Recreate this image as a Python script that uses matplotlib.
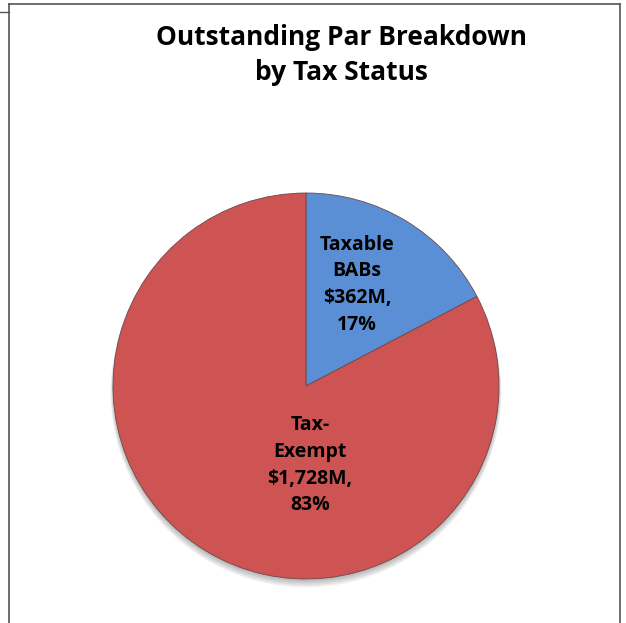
import matplotlib.pyplot as plt
from matplotlib.lines import Line2D
from matplotlib.patches import Circle

##the data for the pie
categories = ["Taxable\nBABs", "Tax-\nExempt"]
par_millions = [362, 1728]
colors = ["#5A8FD5", "#CD5452"]

total = sum(par_millions)
labels = []
for name, val in zip(categories, par_millions):
    labels.append("%s\n$%sM,\n%d%%" % (name, format(val, ","), round(100 * val / total)))

fig = plt.figure(figsize=(6.26, 6.23), dpi=100)

##pie axes placed so the circle sits where it does in the picture
W, H = 626, 623
cx, cy, r = 306, 386, 193
ax = fig.add_axes([(cx - r) / W, (H - cy - r) / H, 2 * r / W, 2 * r / H])

##soft shadow under the pie
for k in range(4):
    ax.add_patch(Circle((0, -0.012 - 0.006 * k), 1.0 + 0.004 * k, color="black",
                        alpha=0.07, lw=0, zorder=0))

wedges, _ = ax.pie(par_millions, colors=colors, startangle=90, counterclock=False,
                   radius=1, wedgeprops=dict(edgecolor="#6a4a4a", linewidth=0.6))
ax.set_xlim(-1.05, 1.05)
ax.set_ylim(-1.05, 1.05)
ax.set_aspect("equal")
ax.axis("off")
ax.set_position([(cx - 1.05 * r) / W, (H - cy - 1.05 * r) / H, 2.1 * r / W, 2.1 * r / H])

##label spots inside each slice
label_pos = [(0.265, 0.525), (0.02, -0.41)]
for (x, y), txt in zip(label_pos, labels):
    ax.text(x, y, txt, ha="center", va="center", fontsize=14, fontweight="bold",
            family="Open Sans", color="black", linespacing=1.45)

fig.text(341 / W, 1 - 55 / H, "Outstanding Par Breakdown\nby Tax Status", ha="center", va="center",
         fontsize=19, fontweight="bold", family="Open Sans", linespacing=1.4)

##the frame around the chart
fig.add_artist(Line2D([9 / W, 9 / W], [0, 1 - 4 / H], color="#555555", lw=1.2))
fig.add_artist(Line2D([620 / W, 620 / W], [0, 1 - 4 / H], color="#555555", lw=1.2))
fig.add_artist(Line2D([9 / W, 620 / W], [1 - 4 / H, 1 - 4 / H], color="#555555", lw=1.2))
fig.add_artist(Line2D([0, 9 / W], [1 - 12 / H, 1 - 12 / H], color="#555555", lw=1.0))

fig.savefig("out.png", dpi=100)
